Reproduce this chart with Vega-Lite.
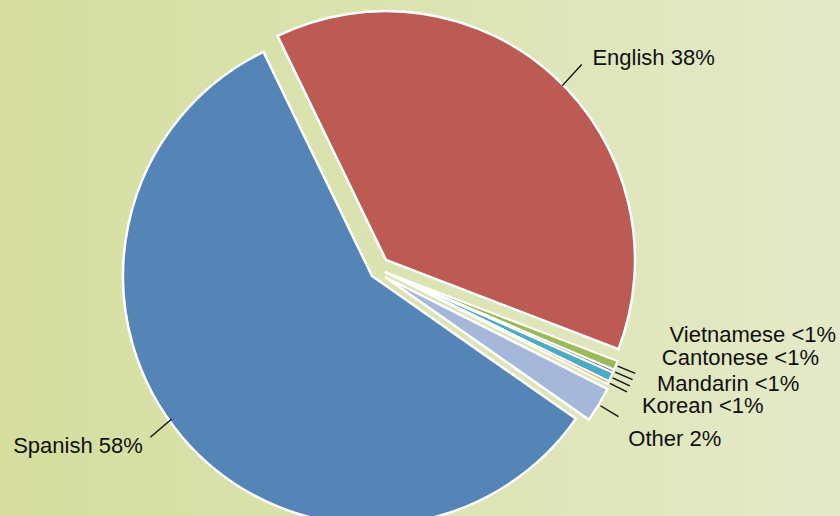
{
  "$schema": "https://vega.github.io/schema/vega-lite/v6.json",
  "width": 944,
  "height": 552,
  "autosize": {"type": "none"},
  "padding": {"left": -100, "top": 0, "right": -4, "bottom": -36},
  "background": "#DDE4B4",
  "config": {
    "view": {"stroke": null},
    "text": {"font": "Liberation Sans", "fontSize": 22, "color": "#111111"}
  },
  "datasets": {
    "langs": [
      {"ord": 1, "lang": "Spanish", "pct": 58.1, "label": "Spanish 58%"},
      {"ord": 2, "lang": "English", "pct": 38.0, "label": "English 38%"},
      {"ord": 3, "lang": "Vietnamese", "pct": 0.6, "label": "Vietnamese <1%"},
      {"ord": 4, "lang": "Cantonese", "pct": 0.2, "label": "Cantonese <1%"},
      {"ord": 5, "lang": "Mandarin", "pct": 0.6, "label": "Mandarin <1%"},
      {"ord": 6, "lang": "Korean", "pct": 0.2, "label": "Korean <1%"},
      {"ord": 7, "lang": "Other", "pct": 2.3, "label": "Other 2%"}
    ],
    "bg": [{"name": "background"}]
  },
  "data": {"name": "langs"},
  "transform": [
    {"window": [{"op": "sum", "field": "pct", "as": "cum"}], "sort": [{"field": "ord"}], "frame": [null, 0]},
    {"calculate": "datum.cum - datum.pct", "as": "start"},
    {"calculate": "datum.cum - datum.pct / 2", "as": "mid"}
  ],
  "layer": [
    {
      "data": {"name": "bg"},
      "transform": [],
      "mark": {
        "type": "rect",
        "fill": {
          "gradient": "linear",
          "x1": 0, "y1": 0, "x2": 1, "y2": 0,
          "stops": [
            {"offset": 0, "color": "#D3DC9B"},
            {"offset": 0.106, "color": "#D5DE9F"},
            {"offset": 0.45, "color": "#DAE2AE"},
            {"offset": 1, "color": "#E4EAC8"}
          ]
        }
      },
      "encoding": {
        "x": {"value": 0},
        "x2": {"value": "width"},
        "y": {"value": 0},
        "y2": {"value": "height"}
      }
    },
    {
      "transform": [{"filter": "datum.lang == 'Spanish'"}],
      "mark": {"type": "arc", "outerRadius": 249, "stroke": "#FFFFFF", "strokeWidth": 2.5},
      "encoding": {
        "color": {"field": "lang", "type": "nominal", "legend": null, "scale": {"domain": ["Spanish", "English", "Vietnamese", "Cantonese", "Mandarin", "Korean", "Other"], "range": ["#5585B6", "#BC5B53", "#9BBB59", "#8064A2", "#4BACC6", "#F79646", "#A6B8DA"]}},
        "theta": {"field": "start", "type": "quantitative", "stack": null, "scale": {"domain": [0, 100], "range": [2.1817, 8.4649]}},
        "theta2": {"field": "cum"}
      }
    },
    {
      "transform": [{"filter": "datum.lang == 'English'"}],
      "mark": {"type": "arc", "outerRadius": 249, "stroke": "#FFFFFF", "strokeWidth": 2.5, "xOffset": 14, "yOffset": -16},
      "encoding": {
        "color": {"field": "lang", "type": "nominal", "legend": null},
        "theta": {"field": "start", "type": "quantitative", "stack": null, "scale": {"domain": [0, 100], "range": [2.1817, 8.4649]}},
        "theta2": {"field": "cum"}
      }
    },
    {
      "transform": [{"filter": "indexof(['Vietnamese','Cantonese','Mandarin','Korean'], datum.lang) >= 0"}],
      "mark": {"type": "arc", "outerRadius": 249, "stroke": "#FFFFFF", "strokeWidth": 2, "xOffset": 13, "yOffset": -4},
      "encoding": {
        "color": {"field": "lang", "type": "nominal", "legend": null},
        "theta": {"field": "start", "type": "quantitative", "stack": null, "scale": {"domain": [0, 100], "range": [2.1817, 8.4649]}},
        "theta2": {"field": "cum"}
      }
    },
    {
      "transform": [{"filter": "datum.lang == 'Other'"}],
      "mark": {"type": "arc", "outerRadius": 249, "stroke": "#FFFFFF", "strokeWidth": 2.5, "xOffset": 13, "yOffset": 1},
      "encoding": {
        "color": {"field": "lang", "type": "nominal", "legend": null},
        "theta": {"field": "start", "type": "quantitative", "stack": null, "scale": {"domain": [0, 100], "range": [2.1817, 8.4649]}},
        "theta2": {"field": "cum"}
      }
    },
    {
      "transform": [{"filter": "datum.lang == 'Spanish'"}],
      "mark": {"type": "arc", "innerRadius": 250, "outerRadius": 278, "fill": "transparent", "stroke": "#111111", "strokeWidth": 1.4, "xOffset": -10, "yOffset": -19},
      "encoding": {
        "theta": {"field": "mid", "type": "quantitative", "stack": null, "scale": {"domain": [0, 100], "range": [2.1817, 8.4649]}},
        "theta2": {"field": "mid"}
      }
    },
    {
      "transform": [{"filter": "datum.lang == 'English'"}],
      "mark": {"type": "arc", "innerRadius": 250, "outerRadius": 279, "fill": "transparent", "stroke": "#111111", "strokeWidth": 1.4, "xOffset": 21, "yOffset": -6},
      "encoding": {
        "theta": {"field": "mid", "type": "quantitative", "stack": null, "scale": {"domain": [0, 100], "range": [2.1817, 8.4649]}},
        "theta2": {"field": "mid"}
      }
    },
    {
      "transform": [{"filter": "indexof(['Vietnamese','Cantonese','Mandarin','Korean'], datum.lang) >= 0"}],
      "mark": {"type": "arc", "innerRadius": 251, "outerRadius": 270, "fill": "transparent", "stroke": "#111111", "strokeWidth": 1.4, "xOffset": 13, "yOffset": -4},
      "encoding": {
        "theta": {"field": "mid", "type": "quantitative", "stack": null, "scale": {"domain": [0, 100], "range": [2.1817, 8.4649]}},
        "theta2": {"field": "mid"}
      }
    },
    {
      "transform": [{"filter": "datum.lang == 'Other'"}],
      "mark": {"type": "arc", "innerRadius": 251, "outerRadius": 272, "fill": "transparent", "stroke": "#111111", "strokeWidth": 1.4, "xOffset": 13, "yOffset": 1},
      "encoding": {
        "theta": {"field": "mid", "type": "quantitative", "stack": null, "scale": {"domain": [0, 100], "range": [2.1817, 8.4649]}},
        "theta2": {"field": "mid"}
      }
    },
    {
      "transform": [{"filter": "datum.lang == 'English'"}],
      "mark": {"type": "text", "radius": 280, "align": "left", "baseline": "alphabetic", "dx": 17, "dy": 11, "xOffset": 14, "yOffset": -16},
      "encoding": {
        "color": {"value": "#111111"},
        "text": {"field": "label"},
        "theta": {"field": "mid", "type": "quantitative", "stack": null, "scale": {"domain": [0, 100], "range": [2.1817, 8.4649]}}
      }
    },
    {
      "transform": [{"filter": "datum.lang == 'Spanish'"}],
      "mark": {"type": "text", "radius": 280, "align": "right", "baseline": "alphabetic", "dx": -16, "dy": -5},
      "encoding": {
        "color": {"value": "#111111"},
        "text": {"field": "label"},
        "theta": {"field": "mid", "type": "quantitative", "stack": null, "scale": {"domain": [0, 100], "range": [2.1817, 8.4649]}}
      }
    },
    {
      "transform": [{"filter": "datum.lang == 'Vietnamese'"}],
      "mark": {"type": "text", "radius": 280, "align": "left", "baseline": "alphabetic", "dx": 25, "dy": -35, "xOffset": 13, "yOffset": -4},
      "encoding": {
        "color": {"value": "#111111"},
        "text": {"field": "label"},
        "theta": {"field": "mid", "type": "quantitative", "stack": null, "scale": {"domain": [0, 100], "range": [2.1817, 8.4649]}}
      }
    },
    {
      "transform": [{"filter": "datum.lang == 'Cantonese'"}],
      "mark": {"type": "text", "radius": 280, "align": "left", "baseline": "alphabetic", "dx": 20, "dy": -19, "xOffset": 13, "yOffset": -4},
      "encoding": {
        "color": {"value": "#111111"},
        "text": {"field": "label"},
        "theta": {"field": "mid", "type": "quantitative", "stack": null, "scale": {"domain": [0, 100], "range": [2.1817, 8.4649]}}
      }
    },
    {
      "transform": [{"filter": "datum.lang == 'Mandarin'"}],
      "mark": {"type": "text", "radius": 280, "align": "left", "baseline": "alphabetic", "dx": 18, "dy": 1, "xOffset": 13, "yOffset": -4},
      "encoding": {
        "color": {"value": "#111111"},
        "text": {"field": "label"},
        "theta": {"field": "mid", "type": "quantitative", "stack": null, "scale": {"domain": [0, 100], "range": [2.1817, 8.4649]}}
      }
    },
    {
      "transform": [{"filter": "datum.lang == 'Korean'"}],
      "mark": {"type": "text", "radius": 280, "align": "left", "baseline": "alphabetic", "dx": 6, "dy": 17, "xOffset": 13, "yOffset": -4},
      "encoding": {
        "color": {"value": "#111111"},
        "text": {"field": "label"},
        "theta": {"field": "mid", "type": "quantitative", "stack": null, "scale": {"domain": [0, 100], "range": [2.1817, 8.4649]}}
      }
    },
    {
      "transform": [{"filter": "datum.lang == 'Other'"}],
      "mark": {"type": "text", "radius": 280, "align": "left", "baseline": "alphabetic", "dx": 3, "dy": 25, "xOffset": 13, "yOffset": 1},
      "encoding": {
        "color": {"value": "#111111"},
        "text": {"field": "label"},
        "theta": {"field": "mid", "type": "quantitative", "stack": null, "scale": {"domain": [0, 100], "range": [2.1817, 8.4649]}}
      }
    }
  ]
}
